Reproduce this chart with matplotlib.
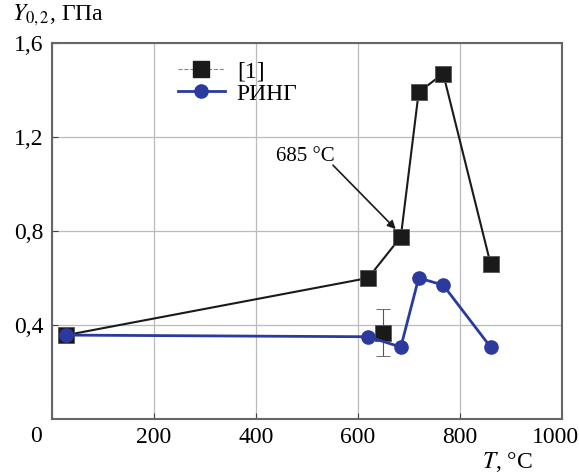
import numpy as np
import matplotlib.pyplot as plt
import matplotlib.transforms as mtransforms

plt.rcParams['font.family'] = ['Liberation Serif', 'DejaVu Serif']
plt.rcParams['mathtext.fontset'] = 'stix'

# данные [1]
t_ref = [28, 620, 684, 719, 767, 860]
y_ref = [0.357, 0.60, 0.775, 1.39, 1.47, 0.66]
# отдельная точка с погрешностью
t_err = [649]
y_err = [0.366]
e_err = [0.1]

# РИНГ
t_ring = [28, 620, 684, 719, 767, 860]
y_ring = [0.357, 0.35, 0.306, 0.60, 0.57, 0.306]

blue = '#2b3a9e'
fs = 17

fig = plt.figure(figsize=(5.79, 4.75), dpi=100)
ax = fig.add_axes([0.0898, 0.1179, 0.8808, 0.7916])

ax.plot(t_ref, y_ref, color='#1a1a1a', linewidth=1.5, zorder=3)
ax.plot(t_ref, y_ref, linestyle='none', marker='s', markersize=11.5,
        color='#1a1a1a', markeredgecolor='#555555', markeredgewidth=0.6, zorder=5)
ax.errorbar(t_err, y_err, yerr=e_err, fmt='s', markersize=11.5, color='#1a1a1a',
            markeredgecolor='#555555', markeredgewidth=0.6,
            ecolor='#555555', elinewidth=0.8, capsize=5, zorder=5)

ax.plot(t_ring, y_ring, color=blue, linewidth=2, marker='o', markersize=9.5,
        zorder=6)

# легенда
h1, = ax.plot([], [], color='#888888', linestyle='--', linewidth=0.8, marker='s',
              markersize=11.5, markerfacecolor='#1a1a1a', markeredgecolor='#1a1a1a')
h2, = ax.plot([], [], color=blue, linewidth=2, marker='o', markersize=9.5)
ax.legend([h1, h2], ['[1]', 'РИНГ'], loc='upper left', bbox_to_anchor=(0.205, 1.01),
          frameon=False, fontsize=fs, handlelength=2.0, labelspacing=0.05,
          handletextpad=0.5)

ax.text(496, 1.115, '685 °C', fontsize=15, ha='center', va='center')
ax.annotate('', xy=(674, 0.808), xytext=(551, 1.08),
            arrowprops=dict(arrowstyle='-|>', color='#1a1a1a', lw=1.2,
                            shrinkA=0, shrinkB=0, mutation_scale=12))

ax.set_xlim(0, 1000)
ax.set_ylim(0, 1.6)
ax.set_xticks([0, 200, 400, 600, 800, 1000])
ax.set_xticklabels(['', '200', '400', '600', '800', '1000'])
ax.set_yticks([0.4, 0.8, 1.2, 1.6])
ax.set_yticklabels(['0,4', '0,8', '1,2', '1,6'])
ax.tick_params(direction='in', labelsize=fs, length=4, color='#444444')
ax.tick_params(axis='x', pad=6)
ax.tick_params(axis='y', pad=6)
ax.grid(True, color='#bbbbbb', linewidth=0.9)
for s in ax.spines.values():
    s.set_color('#666666')
    s.set_linewidth(1.5)

# сдвиг подписи 1000 влево, чтобы не обрезалась
lab = ax.get_xticklabels()[-1]
lab.set_transform(lab.get_transform() +
                  mtransforms.ScaledTranslation(-6 / 100, 0, fig.dpi_scale_trans))

fig.text(0.062, 0.08, '0', fontsize=fs, ha='center', va='center')
fig.text(0.02, 0.968, r'$Y_{0,2}$, ГПа', fontsize=fs, ha='left', va='center')
fig.text(0.877, 0.027, r'$T$, °C', fontsize=fs, ha='center', va='center')

fig.savefig('out.png', dpi=100)
